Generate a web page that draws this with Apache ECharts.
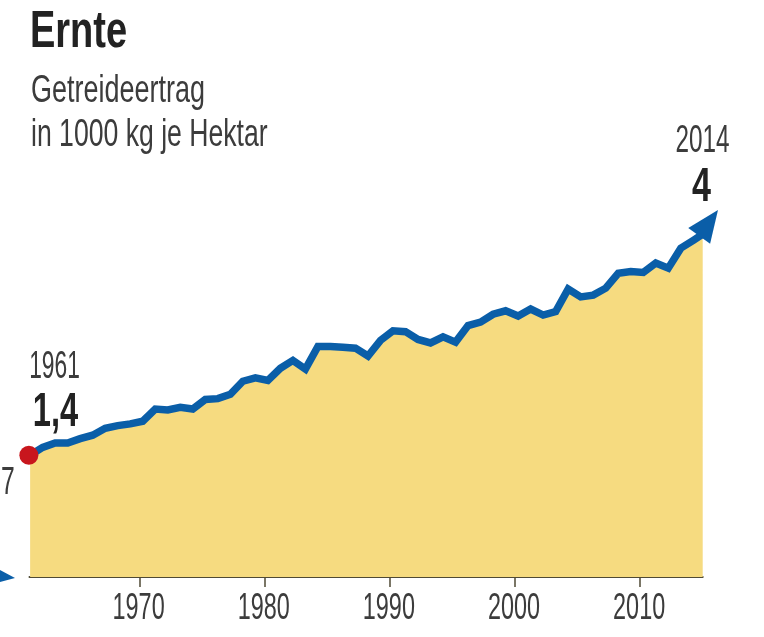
<!DOCTYPE html>
<html>
<head>
<meta charset="utf-8">
<style>
  html, body { margin: 0; padding: 0; background: #fff; }
  #chart { width: 764px; height: 637px; }
</style>
<script src="https://cdn.jsdelivr.net/npm/echarts@6/dist/echarts.min.js"></script>
</head>
<body>
<div id="chart"></div>
<script>
  var chart = echarts.init(document.getElementById('chart'));
  var font = '"Liberation Sans", sans-serif';
  var blau = '#0a5ea8';

  // Getreideertrag 1961-2014
  var ertrag = [1.40, 1.49, 1.54, 1.54, 1.59, 1.63, 1.71, 1.74, 1.76, 1.79,
    1.93, 1.92, 1.95, 1.93, 2.04, 2.05, 2.10, 2.25, 2.29, 2.26,
    2.40, 2.49, 2.39, 2.65, 2.65, 2.64, 2.63, 2.54, 2.72, 2.83,
    2.82, 2.73, 2.69, 2.76, 2.70, 2.89, 2.93, 3.02, 3.06, 3.00,
    3.08, 3.01, 3.05, 3.31, 3.22, 3.24, 3.32, 3.49, 3.51, 3.50,
    3.61, 3.55, 3.78, 3.87];

  // die Punkte sitzen im Original etwas rechts der Jahresmarke
  var linie = ertrag.map(function (v, i) {
    return [1961.25 + i, v];
  });
  linie.push([2015, 3.94]);

  var jahre = [1970, 1980, 1990, 2000, 2010];

  // [Jahr, Wert, Text, Schriftgroesse, fett, Stauchung, dy zur Grundlinie, dx]
  var wertLabels = [
    [1961.2, 1.4, '1961', 38, false, 0.6, -77, 25],
    [1961.2, 1.4, '1,4', 48, true, 0.68, -29, 26],
    [2014.9, 3.94, '2014', 38, false, 0.64, -82, 1],
    [2014.9, 3.94, '4', 48, true, 0.71, -33, 0]
  ];

  // die Schrift im Original ist schmal, also Liberation Sans horizontal stauchen
  function textEl(x, y, text, size, bold, scale, color, align) {
    return {
      type: 'text',
      x: x,
      y: y - size * 0.29,
      scaleX: scale,
      style: {
        text: text,
        fontFamily: font,
        fontSize: size,
        fontWeight: bold ? 'bold' : 'normal',
        fill: color,
        align: align || 'center',
        verticalAlign: 'middle'
      }
    };
  }

  var option = {
    animation: false,
    grid: { left: 29.5, top: 150, width: 673.2, height: 427 },
    xAxis: {
      type: 'value',
      min: 1961.2,
      max: 2015,
      splitLine: { show: false },
      axisLine: { lineStyle: { color: '#4f4a35', width: 2 } },
      axisTick: { length: 10, customValues: jahre, lineStyle: { color: '#4f4a35', width: 1.5 } },
      axisLabel: { show: false }
    },
    yAxis: { type: 'value', min: 0, max: 4.908, show: false },
    series: [
      {
        type: 'line',
        data: linie,
        symbol: 'none',
        lineStyle: { color: blau, width: 7.5, join: 'miter' },
        areaStyle: { color: '#f6db80', opacity: 1 },
        clip: false,
        z: 2
      },
      {
        type: 'scatter',
        data: [[1961.15, 1.4]],
        symbolSize: 19,
        itemStyle: { color: '#c8161d', opacity: 1 },
        clip: false,
        z: 4
      },
      {
        type: 'scatter',
        data: [[2015.47, 4.07]],
        symbol: 'triangle',
        symbolSize: [27, 32],
        symbolRotate: -36,
        itemStyle: { color: blau, opacity: 1 },
        clip: false,
        z: 3
      },
      {
        // Jahreszahlen an der Achse
        type: 'custom',
        data: jahre.map(function (j) { return [j, 0]; }),
        clip: false,
        z: 5,
        renderItem: function (params, api) {
          var p = api.coord([api.value(0), 0]);
          return textEl(p[0] - 1, p[1] + 43, String(api.value(0)), 36, false, 0.65, '#3c3c3c');
        }
      },
      {
        type: 'custom',
        data: wertLabels.map(function (d) { return [d[0], d[1]]; }),
        clip: false,
        z: 5,
        renderItem: function (params, api) {
          var d = wertLabels[params.dataIndex];
          var p = api.coord([d[0], d[1]]);
          return textEl(p[0] + d[7], p[1] + d[6], d[2], d[3], d[4], d[5], d[4] ? '#222' : '#3c3c3c');
        }
      }
    ],
    graphic: [
      textEl(30, 48, 'Ernte', 52, true, 0.73, '#222', 'left'),
      textEl(31, 103, 'Getreideertrag', 38, false, 0.71, '#3c3c3c', 'left'),
      textEl(31, 147, 'in 1000 kg je Hektar', 38, false, 0.7, '#3c3c3c', 'left'),
      // Reste der Nachbargrafik am linken Rand
      textEl(1, 495, '7', 38, false, 0.65, '#3c3c3c', 'left'),
      { type: 'polygon', shape: { points: [[0, 570], [15, 578], [0, 582]] }, style: { fill: blau } }
    ]
  };

  chart.setOption(option);
</script>
</body>
</html>
